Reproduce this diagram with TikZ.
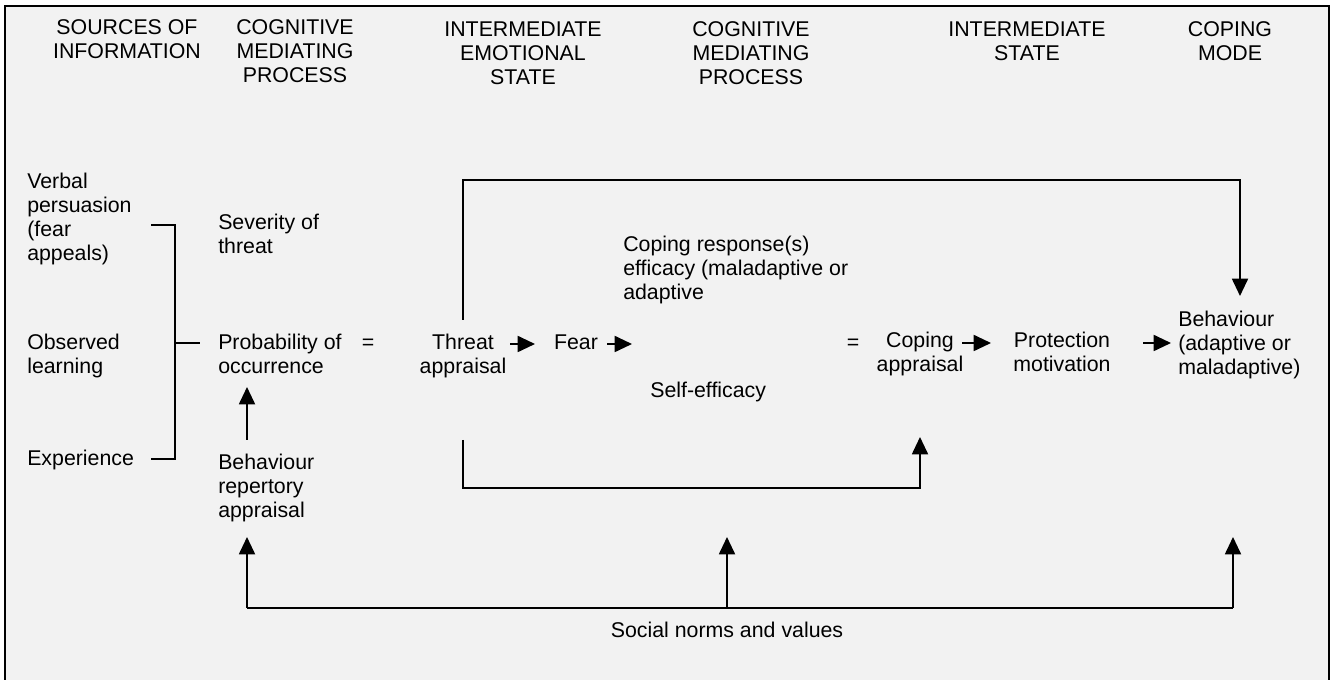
\documentclass[tikz,border=0pt]{standalone}
\usepackage{fontspec}
\setmainfont{Liberation Sans}
\usetikzlibrary{arrows.meta}
\begin{document}
\begin{tikzpicture}[x=0.75pt,y=-0.75pt,
  txt/.style={inner sep=0pt,font=\fontsize{16}{17.8}\selectfont},
  head/.style={txt,align=center,anchor=base},
  lbl/.style={txt,align=left,anchor=base west},
  mid/.style={txt,align=center,anchor=base},
  conn/.style={line width=1.4pt,black},
  arr/.style={conn,-{Triangle[length=13pt,width=12pt]}}]
\useasboundingbox (0,0) rectangle (1336,680);
% paper and frame (open at the bottom)
\fill[white] (0,0) rectangle (1336,680);
\fill[black!5] (5,6) rectangle (1329,680);
\draw[line width=2pt] (5,682) -- (5,6) -- (1329,6) -- (1329,682);

% column headings (positions give the baseline of the last line)
\node[head] (h1) at (127,58.7) {SOURCES OF\\INFORMATION};
\node[head] (h2) at (295,82.4) {COGNITIVE\\MEDIATING\\PROCESS};
\node[head] (h3) at (523,84.4) {INTERMEDIATE\\EMOTIONAL\\STATE};
\node[head] (h4) at (751,84.4) {COGNITIVE\\MEDIATING\\PROCESS};
\node[head] (h5) at (1027,60.7) {INTERMEDIATE\\STATE};
\node[head] (h6) at (1230,60.7) {COPING\\MODE};

% sources
\node[lbl] (verbal) at (27,260.1) {Verbal\\persuasion\\(fear\\appeals)};
\node[lbl] (observed) at (27,373.7) {Observed\\learning};
\node[lbl] (experience) at (27,466) {Experience};

% threat side
\node[lbl] (severity) at (218,253.7) {Severity of\\threat};
\node[lbl] (prob) at (218,373.7) {Probability of\\occurrence};
\node[mid] (eq1) at (368,350) {=};
\node[mid] (threat) at (463,373.7) {Threat\\appraisal};
\node[mid] (fear) at (576,350) {Fear};
\node[lbl] (repertory) at (218,517.4) {Behaviour\\repertory\\appraisal};

% coping side
\node[lbl] (response) at (623,299.4) {Coping response(s)\\efficacy (maladaptive or\\adaptive};
\node[lbl] (selfeff) at (650,398) {Self-efficacy};
\node[mid] (eq2) at (853,350) {=};
\node[mid] (coping) at (920,371.7) {Coping\\appraisal};
\node[mid] (protect) at (1062,371.7) {Protection\\motivation};
\node[lbl] (behav) at (1178,374.4) {Behaviour\\(adaptive or\\maladaptive)};
\node[mid] (social) at (727,638) {Social norms and values};

% bracket joining the sources
\coordinate (bv) at (151,225);
\coordinate (bvc) at (175,225);
\coordinate (be) at (151,459);
\coordinate (bec) at (175,459);
\coordinate (boc) at (175,343);
\coordinate (bo) at (200,343);
\draw[conn] (bv) -- (bvc) -- (bec) -- (be);
\draw[conn] (boc) -- (bo);

% short arrows along the main row
\coordinate (a1s) at (510,344); \coordinate (a1e) at (535,344);
\coordinate (a2s) at (607,344); \coordinate (a2e) at (632,344);
\coordinate (a3s) at (962,343); \coordinate (a3e) at (991,343);
\coordinate (a4s) at (1143,343); \coordinate (a4e) at (1171,343);
\draw[arr] (a1s) -- (a1e);
\draw[arr] (a2s) -- (a2e);
\draw[arr] (a3s) -- (a3e);
\draw[arr] (a4s) -- (a4e);

% behaviour repertory appraisal feeds probability of occurrence
\coordinate (rp0) at (247,440);
\coordinate (rp1) at (247,387);
\draw[arr] (rp0) -- (rp1);

% threat appraisal straight to behaviour
\coordinate (tt0) at (463,320);
\coordinate (tt1) at (463,180);
\coordinate (tt2) at (1240,180);
\coordinate (tt3) at (1240,296);
\draw[arr] (tt0) -- (tt1) -- (tt2) -- (tt3);

% threat appraisal to coping appraisal
\coordinate (tc0) at (463,440);
\coordinate (tc1) at (463,488);
\coordinate (tc2) at (920,488);
\coordinate (tc3) at (920,437);
\draw[arr] (tc0) -- (tc1) -- (tc2) -- (tc3);

% social norms and values
\coordinate (sl) at (247,608);
\coordinate (sm) at (727,608);
\coordinate (sr) at (1233,608);
\coordinate (slt) at (247,537);
\coordinate (smt) at (727,537);
\coordinate (srt) at (1233,537);
\draw[conn] (sl) -- (sr);
\draw[arr] (sl) -- (slt);
\draw[arr] (sm) -- (smt);
\draw[arr] (sr) -- (srt);
\end{tikzpicture}
\end{document}
